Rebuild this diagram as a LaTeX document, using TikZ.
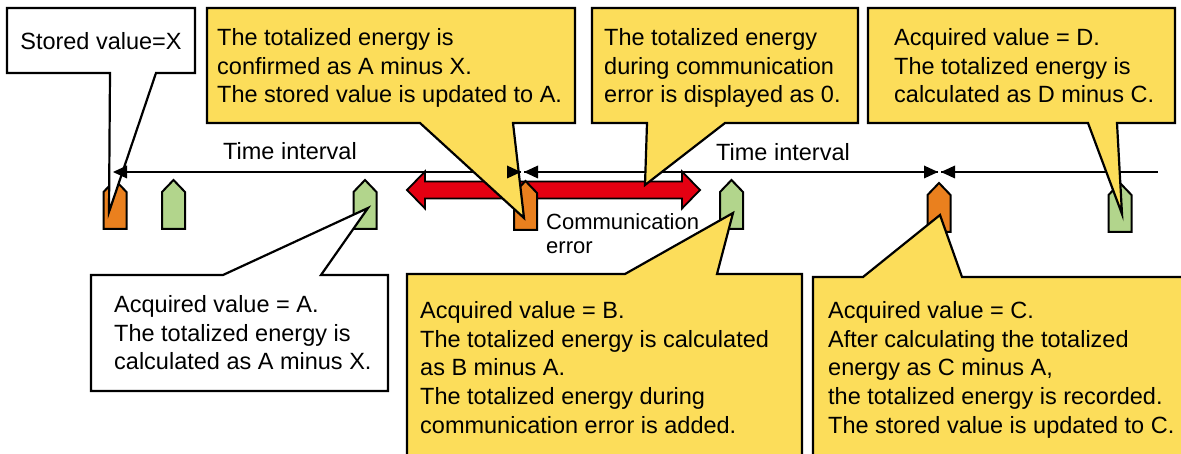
\documentclass[tikz,border=0pt]{standalone}
\usepackage{fontspec}
\setmainfont{Liberation Sans}
\definecolor{cyel}{RGB}{252,221,90}
\definecolor{corg}{RGB}{234,128,30}
\definecolor{cgrn}{RGB}{178,213,140}
\definecolor{cred}{RGB}{228,0,18}
\tikzset{
  callout/.style={line width=2.2pt, line join=miter},
  ybox/.style={callout, fill=cyel, draw=black},
  wbox/.style={callout, fill=white, draw=black},
  txt/.style={anchor=north west, inner sep=0pt, align=left, font=\fontsize{23.5}{28.7}\selectfont},
  lbl/.style={inner sep=0pt, font=\fontsize{23.5}{28}\selectfont},
  tline/.style={line width=2pt},
  tip/.style={fill=black},
  mk/.style={line width=2pt, draw=black, line join=miter}
}
\begin{document}
\begin{tikzpicture}[x=1pt,y=-1pt]
\clip (0,0) rectangle (1181,454);
\fill[white] (0,0) rectangle (1181,454);

% timeline
\coordinate (t0) at (113,172);
\coordinate (t1) at (521,172);
\coordinate (t2) at (524,172);
\coordinate (t3) at (938,172);
\coordinate (t4) at (941,172);
\coordinate (t5) at (1158,172);
\draw[tline] (t0) -- (t1);
\draw[tline] (t2) -- (t3);
\draw[tline] (t4) -- (t5);
\node[lbl] (ti1) at (290,151) {Time interval};
\node[lbl] (ti2) at (783,152) {Time interval};

% red double arrow
\draw[fill=cred, line width=1.8pt, line join=miter]
  (407,190) -- (425,171.5) -- (425,181.5) -- (682,181.5) -- (682,171.5) -- (700,190)
  -- (682,208.5) -- (682,198.5) -- (425,198.5) -- (425,208.5) -- cycle;

% markers
\foreach \x/\c/\t [count=\i] in {115/corg/180, 173.5/cgrn/180, 365/cgrn/180, 525.5/corg/181, 731.5/cgrn/180, 939/corg/183, 1120/cgrn/183}{
  \draw[mk, fill=\c] (\x-11.5,\t+49) -- (\x-11.5,\t+12) -- (\x,\t) -- (\x+11.5,\t+12) -- (\x+11.5,\t+49) -- cycle;
  \coordinate (m\i) at (\x,\t+30);
}

\node[anchor=north west, inner sep=0pt, align=left, font=\fontsize{22}{23.5}\selectfont] (comm) at (546,213.6) {Communication\\error};

% top callouts
\draw[wbox] (7,8) -- (195,8) -- (195,73) -- (156,73) -- (109,212) -- (110,73) -- (7,73) -- cycle;
\node[lbl] (sv) at (101,41) {Stored value=X};

\draw[ybox] (207,8) -- (575,8) -- (575,123) -- (513,123) -- (524,218) -- (420,123) -- (207,123) -- cycle;
\node[txt] (ta) at (217,28.3) {The totalized energy is\\confirmed as A minus X.\\The stored value is updated to A.};

\draw[ybox] (592,8) -- (858,8) -- (858,123) -- (725,123) -- (645,185) -- (647,123) -- (592,123) -- cycle;
\node[txt] (tb) at (604,28.3) {The totalized energy\\during communication\\error is displayed as 0.};

\draw[ybox] (868,8) -- (1175,8) -- (1175,123) -- (1117,123) -- (1122,214) -- (1088,123) -- (868,123) -- cycle;
\node[txt] (tc) at (894,28.3) {Acquired value = D.\\The totalized energy is\\calculated as D minus C.};

% bottom callouts
\draw[wbox] (91,275) -- (223,275) -- (368,208) -- (321,275) -- (388,275) -- (388,391) -- (91,391) -- cycle;
\node[txt] (ba) at (114,295.3) {Acquired value = A.\\The totalized energy is\\calculated as A minus X.};

\draw[ybox] (407,274) -- (625,274) -- (733,213) -- (717,274) -- (802,274) -- (802,470) -- (407,470) -- cycle;
\node[txt] (bb) at (420,301.3) {Acquired value = B.\\The totalized energy is calculated\\as B minus A.\\The totalized energy during\\communication error is added.};

\draw[ybox] (813,277) -- (863,277) -- (940,215) -- (962,277) -- (1195,277) -- (1195,470) -- (813,470) -- cycle;
\node[txt] (bc) at (828,301.3) {Acquired value = C.\\After calculating the totalized\\energy as C minus A,\\the totalized energy is recorded.\\The stored value is updated to C.};

% timeline arrowheads on top
\fill[tip] (t0) -- ++(14,-6.5) -- ++(0,13) -- cycle;
\fill[tip] (t1) -- ++(-14,-6.5) -- ++(0,13) -- cycle;
\fill[tip] (t2) -- ++(14,-6.5) -- ++(0,13) -- cycle;
\fill[tip] (t3) -- ++(-14,-6.5) -- ++(0,13) -- cycle;
\fill[tip] (t4) -- ++(14,-6.5) -- ++(0,13) -- cycle;
\end{tikzpicture}
\end{document}
